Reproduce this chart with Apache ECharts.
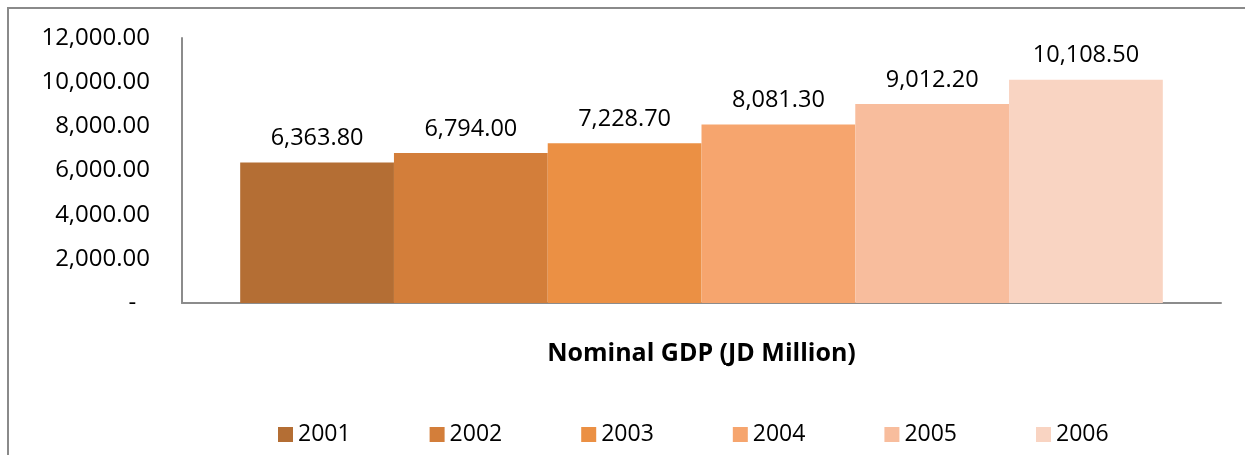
<!DOCTYPE html>
<html><head><meta charset="utf-8">
<script src="https://cdn.jsdelivr.net/npm/echarts@6/dist/echarts.min.js"></script>
<style>html,body{margin:0;padding:0;background:#fff}#c{width:1245px;height:455px}</style>
</head><body><div id="c"></div>
<script>
const categories = ["Nominal GDP (JD Million)"];
const years = ["2001","2002","2003","2004","2005","2006"];
const values = [6363.8, 6794.0, 7228.7, 8081.3, 9012.2, 10108.5];
const colors = ["#B46E34","#D37E3A","#EB9044","#F6A56E","#F8BD9D","#F9D4C2"];
const yTicks = { min: 0, max: 12000, interval: 2000 };

const FONT = "Open Sans";
const fmt = v => v.toLocaleString('en-US', {minimumFractionDigits: 2, maximumFractionDigits: 2});

const chart = echarts.init(document.getElementById('c'), null, {renderer: 'canvas'});
chart.setOption({
  animation: false,
  textStyle: {fontFamily: FONT},
  graphic: [{type: 'rect', shape: {x: 8, y: 8, width: 1400, height: 600}, style: {fill: 'none', stroke: '#8a8a8a', lineWidth: 2}, silent: true}],
  grid: {left: 182, right: 24, top: 38, bottom: 152},
  legend: {
    data: years, bottom: 4, left: 273, itemWidth: 15, itemHeight: 15, itemGap: 79, icon: 'rect',
    textStyle: {fontFamily: FONT, fontSize: 23, color: '#000'}
  },
  xAxis: {
    type: 'category', data: categories,
    axisLine: {lineStyle: {color: '#8c8c8c', width: 2}},
    axisTick: {show: false},
    axisLabel: {fontFamily: FONT, fontSize: 25, fontWeight: 'bold', color: '#000', margin: 38}
  },
  yAxis: {
    type: 'value', min: yTicks.min, max: yTicks.max, interval: yTicks.interval,
    axisLine: {show: true, lineStyle: {color: '#8c8c8c', width: 2}},
    axisTick: {show: false},
    splitLine: {show: false},
    axisLabel: {fontFamily: FONT, fontSize: 24, color: '#000', margin: 32,
      formatter: v => v === 0 ? '-\u2007' : fmt(v)}
  },
  series: years.map((y, i) => ({
    name: y, type: 'bar', data: [values[i]],
    barGap: '0%', barCategoryGap: '11.2%',
    itemStyle: {color: colors[i]},
    label: {show: true, position: 'top', distance: 12, fontFamily: FONT, fontSize: 23.5, color: '#000',
      formatter: p => fmt(p.value)}
  }))
});
</script></body></html>
